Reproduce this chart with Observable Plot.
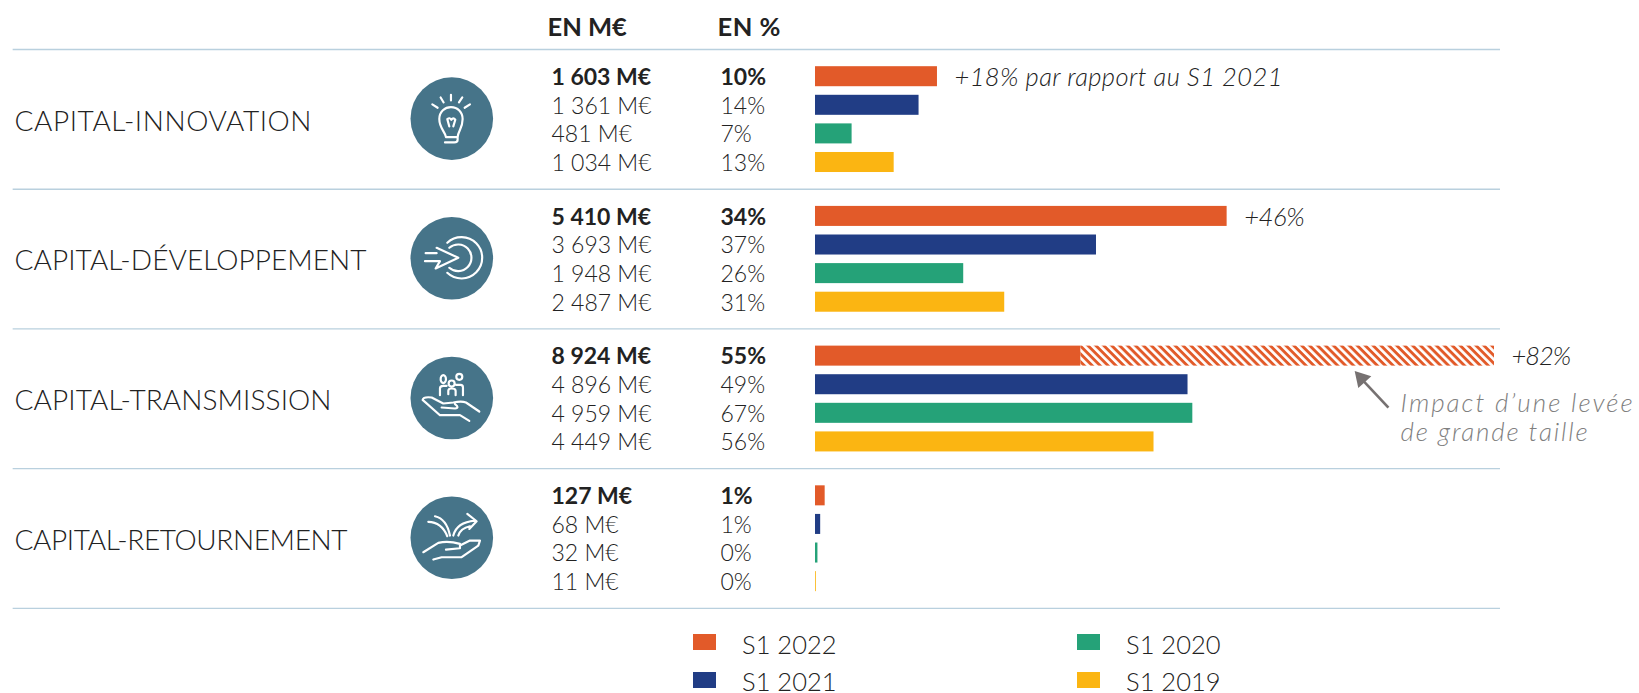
<!DOCTYPE html>
<html><head><meta charset="utf-8">
<script src="https://cdn.jsdelivr.net/npm/d3@7"></script>
<script src="https://cdn.jsdelivr.net/npm/@observablehq/plot@0.6"></script>
<style>
html,body{margin:0;padding:0;background:#fff;overflow:hidden;}
#legend{position:relative;height:73px;width:1639px;font:300 25.5px Lato,sans-serif;color:#222;}
#legend div{position:absolute;white-space:nowrap;line-height:24px;}
#legend i{position:absolute;width:23px;height:15.5px;}
svg{display:block;}
</style></head><body>
<div id="chart"></div>
<div id="legend"></div>
<script>
const categories = ["CAPITAL-INNOVATION","CAPITAL-DÉVELOPPEMENT","CAPITAL-TRANSMISSION","CAPITAL-RETOURNEMENT"];
const periods = ["S1 2022","S1 2021","S1 2020","S1 2019"];
const colors = ["#E25A29","#213D85","#25A278","#FBB512"];
const amounts = [
  [1603,1361,481,1034],
  [5410,3693,1948,2487],
  [8924,4896,4959,4449],
  [127,68,32,11]
];
const shares = [
  [10,14,7,13],
  [34,37,26,31],
  [55,49,67,56],
  [1,1,0,0]
];
const solidTransmission2022 = 3490;
const growth = ["+18% par rapport au S1 2021","+46%","+82%",null];
const noteLines = ["Impact d’une levée","de grande taille"];
const groupStep = 4.885; // rows per group, in row units
const row = (g,s) => g*groupStep + s;

const rows = [];
categories.forEach((c,g)=>periods.forEach((p,s)=>rows.push({g,s,c,p,color:colors[s],amount:amounts[g][s],share:shares[g][s],pos:row(g,s)})));
const fmt = v => (v>=1000 ? Math.floor(v/1000)+" "+String(v%1000).padStart(3,"0") : String(v))+" M€";

const barRows = rows.filter(d=>!(d.g===2&&d.s===0));
const hatch = {from:solidTransmission2022,to:amounts[2][0],pos:row(2,0)};
const separators = [0,1,2,3,4].map(g=>g*groupStep-0.951);
const gl = categories.map((c,g)=>({c,pos:row(g,1.5)}));

const iconPaths = [
 "M168 232C165 215 148 205 148 178C148 155 165 142 183 142C203 142 218 157 218 178C218 205 205 212 203 232L203 240Q203 248 193 248L165 248M168 232L203 232M178 200L172 178Q180 172 184 180Q190 172 196 180L190 200M127 134L143 144M152 113L161 128M183 105L183 122M217 113L207 128M240 134L224 144",
 "M172 550A62 62 0 1 1 172 640M178 565A40 40 0 1 1 178 625M140 565L205 595L137 627L150 605L105 605M107 581L140 581",
 "M152 120a8 12 0 1 0 16 0a8 12 0 1 0 -16 0M176 133a9 9 0 1 0 18 0a9 9 0 1 0 -18 0M199 113a9 9 0 1 0 18 0a9 9 0 1 0 -18 0M150 168L150 148Q150 140 160 140L170 140M175 165L175 155Q175 148 185 148Q197 148 197 155L197 168M198 137L212 137Q219 137 219 145L219 168M268 217L228 190Q215 185 190 190L160 193L125 175Q100 172 98 182L150 228L210 228L238 245M155 205L195 208Q210 205 195 195",
 "M115 549Q155 550 172 592M135 532Q170 540 180 590M190 590Q200 550 255 545M205 590Q212 568 240 562M232 525L260 547L238 570M100 640L145 612Q175 605 210 615L210 628L168 632M210 620L240 605L270 605L265 620L215 655L155 655L130 662"
];
const iconCenters = [[184,175],[184,595],[184,175],[184,595]];

const iconMark = (index,{y},values,dims) => {
  const g = d3.create("svg:g");
  iconPaths.forEach((d,i)=>{
    const cy = y(row(i,1.5))-1;
    const [ox,oy]=iconCenters[i];
    g.append("path").attr("d",d).attr("fill","none").attr("stroke","#fff").attr("stroke-width",6.5)
     .attr("stroke-linecap","round").attr("stroke-linejoin","round")
     .attr("transform",`translate(451.3,${cy}) scale(0.3333) translate(${-ox},${-oy})`);
  });
  return g.node();
};
const defsMark = () => {
  const s = d3.create("svg:g");
  const p = s.append("defs").append("pattern").attr("id","hatch").attr("patternUnits","userSpaceOnUse")
    .attr("width",5.6).attr("height",5.6).attr("patternTransform","rotate(45)");
  p.append("rect").attr("width",5.6).attr("height",5.6).attr("fill","#fff");
  p.append("rect").attr("width",5.6).attr("height",2.9).attr("fill","#E25A29");
  return s.node();
};

const font = "Lato, sans-serif";
const numText = (data,opts)=>Plot.text(data,{frameAnchor:"left",textAnchor:"start",fontFamily:font,fill:"#222",dy:1,...opts});

const chart = Plot.plot({
  width:1639, height:620, margin:0, marginLeft:0, marginRight:0, marginTop:0, marginBottom:0,
  x:{domain:[0,8924],range:[815,1494],axis:null},
  y:{domain:[-76.2/28.6,(620-76.2)/28.6],range:[0,620],axis:null},
  style:{background:"transparent",fontFamily:font},
  marks:[
    defsMark,
    Plot.ruleY(separators,{stroke:"#B9D0DE",strokeWidth:1.4,x1:-10545,x2:9003}),
    Plot.dot(gl,{y:"pos",frameAnchor:"left",dx:451.3,r:41.3,fill:"#467489",dy:-1}),
    iconMark,
    Plot.rectX(barRows,{x1:0,x2:"amount",y1:d=>d.pos-0.35,y2:d=>d.pos+0.35,fill:"color"}),
    Plot.rectX([hatch],{x1:0,x2:"from",y1:d=>d.pos-0.35,y2:d=>d.pos+0.35,fill:colors[0]}),
    Plot.rectX([hatch],{x1:"from",x2:"to",y1:d=>d.pos-0.35,y2:d=>d.pos+0.35,fill:"url(#hatch)"}),
    Plot.text(gl,{y:"pos",text:"c",frameAnchor:"left",textAnchor:"start",dx:14,dy:2,fontSize:28,fontWeight:300,fontFamily:font,fill:"#222"}),
    numText(["EN M€"],{text:d=>d,y:[row(0,0)-1.71],dx:547,dy:0,fontSize:25.5,fontWeight:700}),
    numText(["EN %"],{text:d=>d,y:[row(0,0)-1.71],dx:717,dy:0,fontSize:25.5,fontWeight:700}),
    numText(rows.filter(d=>d.s===0),{y:"pos",text:d=>fmt(d.amount),dx:551,fontSize:23,fontWeight:700}),
    numText(rows.filter(d=>d.s>0),{y:"pos",text:d=>fmt(d.amount),dx:551,fontSize:23,fontWeight:300}),
    numText(rows.filter(d=>d.s===0),{y:"pos",text:d=>d.share+"%",dx:720,fontSize:23,fontWeight:700}),
    numText(rows.filter(d=>d.s>0),{y:"pos",text:d=>d.share+"%",dx:720,fontSize:23,fontWeight:300}),
    Plot.text(categories.map((c,g)=>({g,t:growth[g],a:amounts[g][0]})).filter(d=>d.t),{
      x:"a",y:d=>row(d.g,0),text:"t",dx:17,dy:1,textAnchor:"start",fontSize:25.5,fontStyle:"italic",fontWeight:300,fill:"#222",fontFamily:font}),
    Plot.link([{x1:7530,y1:row(2,1.80),x2:7160,y2:row(2,0.75)}],{x1:"x1",y1:"y1",x2:"x2",y2:"y2",stroke:"#767171",strokeWidth:2.6}),
    Plot.dot([{x:7175,y:row(2,0.78)}],{x:"x",y:"y",symbol:"triangle",r:6.5,rotate:-42,fill:"#767171",stroke:"none"}),
    Plot.text(noteLines,{text:d=>d,x:[7690,7690],y:[row(2,1.66),row(2,2.67)],textAnchor:"start",fontSize:26,fontStyle:"italic",fontWeight:300,fill:"#7f7f7f",fontFamily:font})
  ]
});
document.getElementById("chart").append(chart);

// Fit the substitute font to the widths of the original's text
const widths = new Map([
  [categories[0],297],[categories[1],352],[categories[2],317],[categories[3],333],
  [growth[0],328],[growth[1],60.6],[growth[2],59.6],
  [noteLines[0],232],[noteLines[1],187],["EN %",63]
]);
d3.select(chart).selectAll("text").each(function(){
  const w = widths.get(this.textContent);
  if (w) { this.setAttribute("textLength",w); this.setAttribute("lengthAdjust","spacing"); }
});

const L = document.getElementById("legend");
const pos = [[693,742,14,12],[693,742,52,49],[1077,1126,14,12],[1077,1126,52,49]];
periods.forEach((p,i)=>{
  const [sx,tx,top,ttop]=pos[i];
  const s=document.createElement("i"); s.style.cssText=`left:${sx}px;top:${top}px;background:${colors[i]}`;
  const t=document.createElement("div"); t.style.cssText=`left:${tx}px;top:${ttop}px`; t.textContent=p;
  L.append(s,t);
});
</script>
</body></html>
